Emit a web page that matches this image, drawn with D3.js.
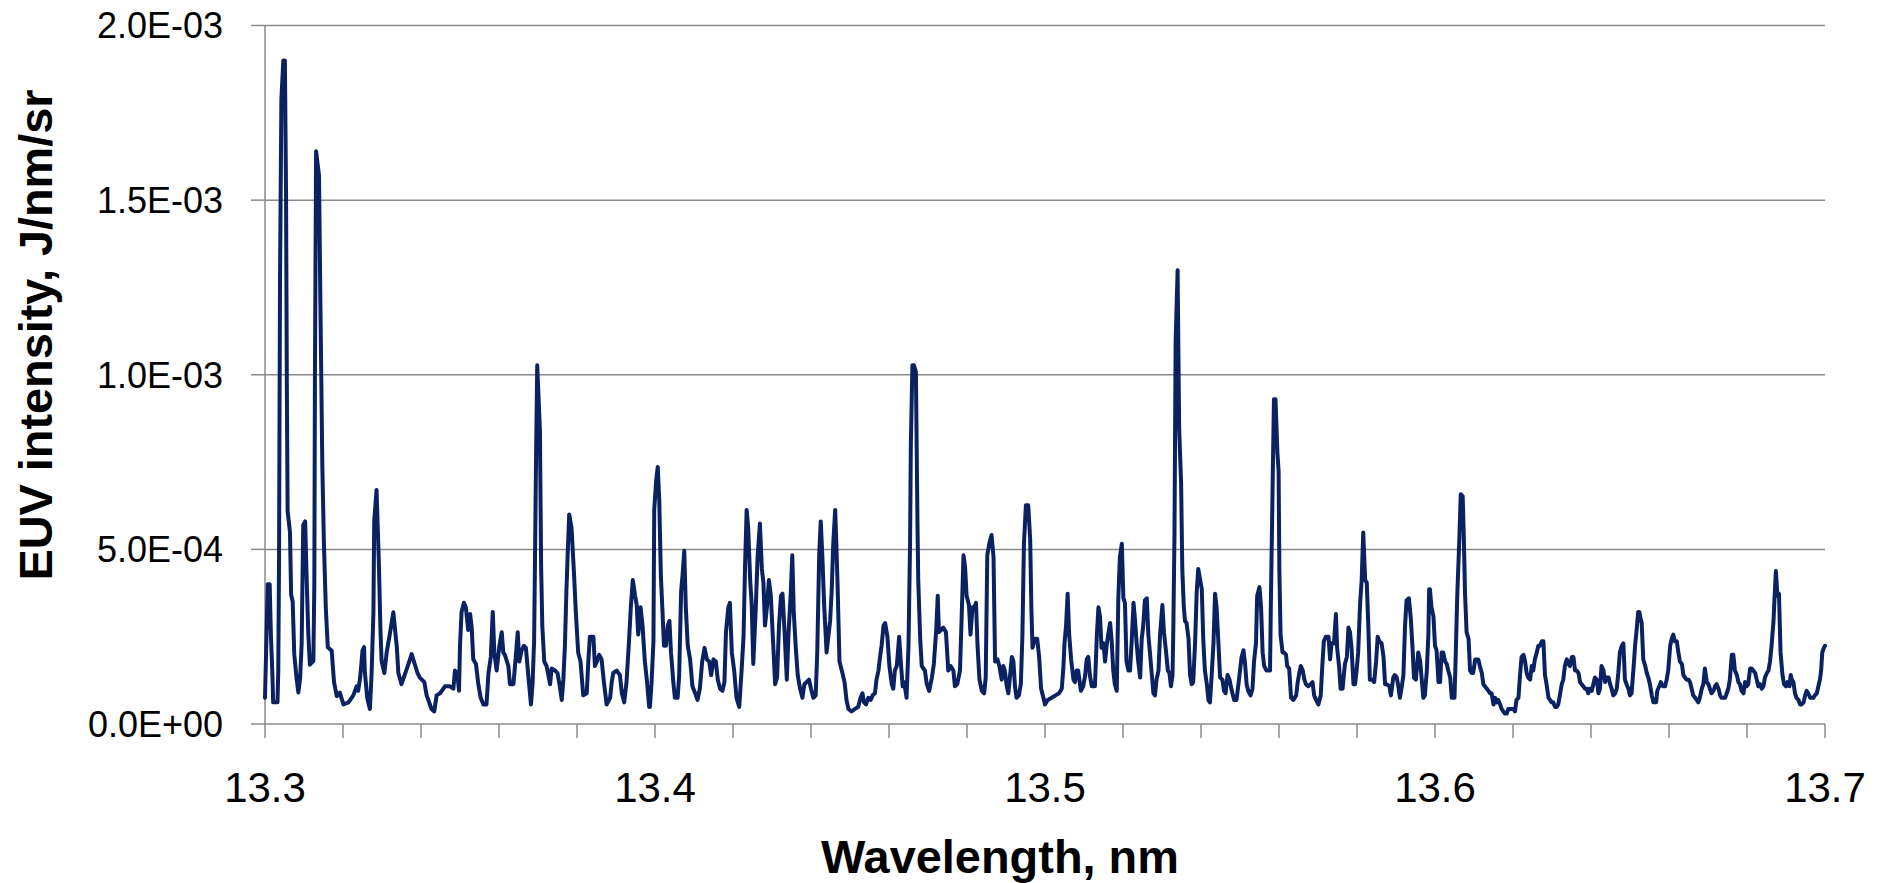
<!doctype html>
<html>
<head>
<meta charset="utf-8">
<title>EUV spectrum</title>
<script src="https://d3js.org/d3.v7.min.js"></script>
<style>
  body { margin: 0; background: #fff; }
  svg text { font-family: "Liberation Sans", Arial, sans-serif; fill: #000; }
</style>
</head>
<body>
<div id="chart"></div>
<script>
  // values
  // spectrum: [wavelength offset from 13.3 nm in pm (0.001 nm), intensity in units of 1E-04 J/nm/sr]
  const wavelengthStart = 13.3;
  const spectrum = [
    [0,0.75],[0.7,4.0],[1.2,4.0],[1.5,2.6],[1.9,1.4],[2.1,0.62],[3.2,0.62],[3.4,1.5],[3.6,4.7],[3.85,12.7],[4.2,17.9],[4.7,19.0],[5.1,19.0],[5.4,15.1],[5.6,9.7],[5.8,6.1],[6.4,5.5],[6.7,3.7],[7.1,3.5],[7.5,2.0],[8.1,1.3],[8.55,0.9],[9.0,1.3],[9.4,2.3],[9.8,5.7],[10.3,5.8],[10.7,4.1],[11.1,2.6],[11.5,1.7],[12.4,1.8],[12.65,4.0],[12.8,9.8],[13.1,16.4],[13.85,15.7],[14.2,12.1],[14.7,7.4],[15.1,5.2],[15.6,3.3],[16.1,2.2],[17.1,2.1],[17.7,1.2],[18.4,0.8],[19.2,0.9],[20.1,0.56],[21.4,0.62],[22.65,0.82],[23.5,1.08],[23.9,0.95],[24.4,1.33],[25.0,2.1],[25.4,2.2],[25.6,1.5],[26.2,0.75],[26.9,0.43],[27.35,1.5],[27.8,3.2],[28.0,5.8],[28.6,6.7],[29.2,4.6],[29.6,2.7],[29.9,1.8],[30.6,1.46],[31.2,2.05],[32.05,2.6],[32.9,3.2],[33.8,2.2],[34.2,1.46],[35.0,1.14],[36.6,1.66],[37.6,2.0],[39.1,1.46],[39.7,1.33],[40.85,1.2],[41.45,0.82],[42.7,0.43],[43.4,0.36],[44.0,0.82],[44.9,0.88],[46.15,1.08],
    [47.4,1.08],[48.3,1.01],[48.7,1.53],[49.3,1.46],[49.75,0.95],[50.0,2.24],[50.4,3.21],[51.0,3.47],[51.5,3.34],[52.1,2.69],[52.6,3.15],[53.0,2.76],[53.4,1.85],[54.1,1.72],[54.7,1.14],[55.3,0.75],[56.0,0.56],[56.8,0.56],[57.3,1.46],[57.9,1.92],[58.4,3.21],[58.8,2.05],[59.4,1.53],[60.1,2.24],[60.7,2.63],[61.1,2.05],[61.5,1.98],[62.4,1.66],[62.8,1.14],[63.7,1.14],[64.1,1.66],[64.8,2.63],[65.2,1.79],[65.8,2.11],[66.4,2.24],[66.9,2.18],[67.5,1.40],[68.2,0.56],[68.6,1.14],[69.0,2.37],[69.2,4.38],[69.5,7.62],[69.8,10.27],[70.5,8.39],[70.8,4.51],[71.1,2.82],[71.6,1.79],[72.2,1.66],[73.1,1.14],[73.5,1.59],[74.4,1.53],[75.0,1.46],[75.5,1.14],[76.1,0.69],[76.5,1.27],[76.9,2.24],[77.3,3.86],[77.6,4.83],[78.0,6.0],[78.6,5.61],[79.2,4.38],[79.7,3.21],[80.3,2.05],[80.9,1.79],[81.6,0.82],[82.5,0.88],[82.9,1.79],[83.3,2.5],[84.2,2.5],[84.6,1.66],[85.1,1.79],[85.7,1.98],[86.3,1.85],[86.9,1.20],[87.6,0.56],[88.5,0.75],[88.9,1.20],[89.3,1.46],[90.2,1.53],[91.0,1.40],[91.5,0.88],[92.1,0.62],[92.7,1.20],[93.3,2.31],[93.8,3.34],[94.3,4.12],[94.9,3.67],[95.3,3.41],[95.7,2.56],[96.3,3.34],[96.8,2.82],[97.4,1.79],[97.9,1.27],[98.5,0.49],[98.7,0.49],
    [99.1,1.14],[99.6,2.37],[99.8,6.13],[100.3,6.97],[100.7,7.36],[101.1,6.39],[101.5,4.25],[101.9,3.28],[102.3,2.24],[102.8,2.24],[103.3,2.82],[103.7,2.95],[104.1,2.05],[104.7,1.20],[105.1,0.75],[105.8,0.75],[106.2,1.40],[106.7,3.80],[107.1,4.31],[107.5,4.96],[107.9,3.34],[108.4,2.24],[109.0,1.85],[109.6,1.08],[110.3,0.88],[110.9,0.69],[111.5,1.01],[112.1,1.79],[112.7,2.18],[113.3,1.85],[113.9,1.79],[114.4,1.40],[115.0,1.85],[115.6,1.79],[116.1,1.27],[116.7,1.01],[117.3,0.95],[117.8,1.20],[118.2,2.63],[118.8,3.34],[119.2,3.47],[119.7,2.05],[120.3,1.53],[120.9,0.75],[121.6,0.49],[122.2,1.53],[122.7,2.5],[123.1,4.57],[123.5,6.13],[123.9,5.61],[124.4,4.12],[124.8,3.41],[125.2,1.72],[125.8,3.21],[126.3,4.77],[126.9,5.74],[127.4,4.44],[127.8,4.05],[128.2,2.82],[128.7,3.34],[129.2,4.12],[129.7,3.67],[130.3,2.31],[130.8,1.14],[131.3,1.33],[131.8,2.82],[132.3,3.67],[132.7,3.73],[133.2,2.69],[133.8,1.27],[134.2,2.5],[134.8,3.73],[135.2,4.83],[135.6,3.15],[136.1,2.18],[136.6,1.40],[137.2,1.01],[137.8,0.75],[138.3,1.14],[138.9,1.20],[139.5,1.27],[140.0,1.01],[140.6,0.75],[141.2,0.82],[141.6,2.05],[142.1,4.83],[142.5,5.80],[142.9,4.83],[143.4,3.34],[144.0,2.05],[144.5,2.56],[144.9,2.95],[145.3,3.80],[145.7,5.16],[146.2,6.13],[146.5,5.16],[146.8,4.05],[147.3,1.79],[147.9,1.53],[148.6,1.20],
    [149.1,0.69],[149.6,0.43],[150.4,0.36],[151.3,0.43],[152.1,0.49],[152.7,0.75],[153.2,0.88],[153.6,0.62],[154.1,0.56],[154.7,0.75],[155.3,0.69],[155.8,0.82],[156.4,0.88],[156.8,1.27],[157.3,1.53],[157.7,1.92],[158.1,2.24],[158.6,2.82],[159.0,2.89],[159.6,2.50],[160.1,1.66],[160.7,1.14],[161.1,1.01],[161.5,1.53],[162.0,1.66],[162.6,2.50],[163.1,1.66],[163.5,1.08],[163.9,1.20],[164.5,0.75],[165.0,2.24],[165.4,5.16],[165.6,8.0],[166.0,10.27],[166.4,10.27],[166.9,10.08],[167.3,5.74],[167.5,4.12],[168.0,2.44],[168.4,1.66],[168.8,1.59],[169.2,1.53],[169.7,1.14],[170.3,0.95],[171.0,1.33],[171.5,1.72],[172.1,2.69],[172.5,3.67],[172.8,2.63],[173.3,2.69],[173.9,2.76],[174.6,2.63],[175.2,1.53],[175.8,1.66],[176.5,1.53],[176.9,1.08],[177.5,1.14],[178.2,1.53],[178.6,2.95],[179.1,4.83],[179.5,4.51],[179.9,3.67],[180.5,3.41],[180.9,2.56],[181.4,3.34],[181.9,3.34],[182.3,3.47],[182.7,2.24],[183.2,1.27],[183.8,0.95],[184.4,0.88],[184.8,1.33],[185.2,4.83],[185.7,5.16],[186.3,5.41],[186.8,4.77],[187.2,1.79],[187.8,1.85],[188.3,1.66],[188.9,1.27],[189.3,1.66],[189.7,1.53],[190.2,1.08],[190.6,0.88],[191.0,1.33],[191.5,1.92],[191.9,1.79],[192.3,1.08],[192.7,0.75],[193.3,0.82],[193.8,1.14],[194.2,2.50],[194.6,5.16],[195.1,6.26],[195.7,6.26],[196.2,5.29],[196.5,3.34],[196.8,2.18],[197.4,2.44],[198.0,2.44],
    [198.5,1.92],[199.0,1.01],[199.6,0.75],[200.0,0.56],[200.7,0.69],[201.7,0.75],[202.7,0.82],[203.6,0.88],[204.3,1.01],[204.7,1.59],[205.0,2.31],[205.4,2.82],[205.8,3.73],[206.2,2.56],[206.7,1.85],[207.3,1.27],[207.7,1.20],[208.1,1.53],[208.5,1.53],[209.2,0.95],[209.8,1.08],[210.3,1.40],[210.7,1.85],[211.1,1.92],[211.5,1.40],[212.0,1.08],[212.8,1.08],[213.3,2.56],[213.7,3.34],[214.1,3.08],[214.5,2.18],[215.0,2.31],[215.4,1.79],[215.8,2.24],[216.2,2.56],[216.7,2.89],[217.1,2.37],[217.5,1.53],[217.9,1.14],[218.4,0.95],[218.8,3.60],[219.2,4.77],[219.7,5.16],[220.1,3.60],[220.5,3.47],[220.9,1.79],[221.4,1.53],[221.8,1.53],[222.2,2.31],[222.7,3.47],[223.1,2.95],[223.5,2.31],[223.9,1.79],[224.4,1.33],[224.8,2.44],[225.2,2.82],[225.6,3.54],[226.1,3.60],[226.5,2.56],[226.9,2.05],[227.4,1.40],[227.8,0.88],[228.2,0.82],[228.6,1.27],[229.1,1.53],[229.5,2.56],[230.1,3.41],[230.5,2.63],[231.0,2.11],[231.5,1.53],[231.9,1.46],[232.3,1.08],[232.7,1.40],[232.9,2.69],[233.2,5.41],[233.5,10.98],[234.0,12.99],[234.4,8.46],[234.9,6.90],[235.2,4.44],[235.6,3.34],[235.9,2.95],[236.3,2.89],[236.8,2.44],[237.2,1.40],[237.6,1.14],[238.0,1.20],[238.5,2.37],[238.9,3.80],[239.3,4.44],[239.7,4.18],[240.2,3.86],[240.6,2.37],[241.0,1.53],[241.5,1.14],[241.9,0.69],[242.3,0.62],[242.7,1.33],[243.2,2.31],[243.6,3.73],[244.0,3.34],[244.5,2.24],[244.9,1.33],[245.5,1.27],[245.9,0.95],[246.3,0.88],[246.8,1.40],[247.3,1.27],[247.9,0.95],[248.5,0.69],
    [249.1,0.69],[249.6,1.14],[250.0,1.53],[250.4,1.92],[250.9,2.11],[251.3,1.72],[251.7,1.14],[252.1,0.95],[252.7,0.82],[253.2,1.01],[253.6,1.79],[254.1,2.31],[254.4,3.67],[255.0,3.92],[255.4,3.34],[255.8,2.05],[256.2,1.66],[256.8,1.53],[257.3,1.53],[257.7,1.53],[257.9,3.34],[258.3,6.32],[258.7,9.30],[259.1,9.30],[259.6,7.75],[259.9,7.23],[260.1,4.38],[260.4,2.56],[260.9,2.05],[261.3,2.05],[261.8,1.98],[262.1,1.66],[262.6,1.59],[263.1,0.75],[263.7,0.69],[264.4,0.82],[264.8,1.20],[265.2,1.46],[265.6,1.66],[266.1,1.53],[266.5,1.27],[266.9,1.14],[267.5,1.08],[268.1,1.14],[268.6,1.20],[269.0,0.82],[269.5,0.69],[270.1,0.56],[270.7,0.82],[271.1,1.66],[271.5,2.37],[272.0,2.50],[272.7,2.50],[273.1,1.85],[273.5,2.31],[274.1,2.31],[274.6,3.15],[274.9,2.18],[275.4,1.66],[275.8,1.01],[276.3,1.01],[276.9,1.72],[277.4,1.92],[277.8,2.76],[278.2,2.63],[278.6,2.18],[279.1,1.14],[279.5,1.14],[279.9,1.53],[280.3,2.05],[280.8,3.47],[281.2,4.12],[281.6,5.48],[282.1,4.12],[282.5,4.05],[282.9,2.82],[283.3,1.27],[284.0,1.27],[284.4,1.20],[284.9,1.79],[285.3,2.50],[285.7,2.37],[286.3,2.31],[286.8,1.92],[287.2,1.14],[287.6,1.14],[288.3,1.08],[288.7,0.82],[289.3,1.33],[289.7,1.40],[290.2,1.33],[290.6,1.08],[291.0,0.75],[291.5,1.08],[291.9,1.40],[292.3,2.76],[292.7,3.54],[293.3,3.60],[293.8,3.02],[294.3,2.05],[294.6,1.33],[295.1,1.27],[295.7,2.05],[296.2,1.79],[296.6,1.27],[297.0,0.75],[297.4,0.82],[297.9,1.53],[298.3,2.56],[298.5,3.86],
    [298.7,3.86],[299.1,3.34],[299.6,3.08],[300.0,2.24],[300.4,2.11],[300.9,1.20],[301.3,1.20],[301.7,2.05],[302.1,2.05],[302.6,1.79],[303.0,1.72],[303.4,1.53],[303.9,1.33],[304.3,0.75],[305.0,0.75],[305.3,1.92],[305.7,3.67],[306.2,5.16],[306.6,6.58],[307.1,6.52],[307.4,5.29],[307.7,3.73],[308.1,2.63],[308.6,2.44],[309.0,1.53],[309.4,1.46],[309.8,1.46],[310.3,1.85],[310.7,1.85],[311.1,1.85],[311.5,1.66],[312.0,1.46],[312.4,1.14],[312.8,1.08],[313.3,1.01],[313.7,0.95],[314.1,0.88],[314.5,0.88],[315.0,0.56],[315.4,0.75],[315.8,0.62],[316.2,0.69],[316.7,0.56],[317.1,0.43],[317.5,0.36],[317.9,0.30],[318.4,0.30],[318.8,0.43],[319.2,0.43],[320.1,0.43],[320.5,0.36],[320.9,0.69],[321.4,0.75],[321.8,1.40],[322.2,1.92],[322.7,1.98],[323.1,1.79],[323.5,1.46],[323.9,1.33],[324.4,1.27],[324.8,1.66],[325.2,1.53],[325.6,1.85],[326.1,2.05],[326.5,2.24],[326.9,2.24],[327.4,2.37],[327.8,2.37],[328.2,1.40],[328.6,1.14],[329.1,0.75],[329.5,0.69],[329.9,0.62],[330.3,0.62],[330.8,0.49],[331.2,0.49],[331.6,0.56],[332.1,0.88],[332.5,1.14],[332.9,1.27],[333.3,1.66],[333.8,1.85],[334.2,1.72],[334.6,1.66],[335.1,1.92],[335.5,1.92],[335.9,1.53],[336.3,1.53],[336.8,1.46],[337.2,1.20],[337.6,1.14],[338.5,1.01],[338.9,1.01],[339.3,0.88],[339.7,1.01],[340.2,0.95],[340.6,1.14],[341.0,1.33],[341.5,1.27],[341.9,0.88],[342.3,1.01],[342.7,1.66],[343.2,1.53],[343.6,1.20],[344.0,1.33],[344.5,1.33],[344.9,1.14],[345.3,1.01],[345.7,0.82],[346.2,0.88],[346.6,1.01],[347.0,1.46],[347.4,2.05],[347.9,2.24],[348.3,2.31],
    [348.7,1.27],[349.1,1.14],[349.6,1.01],[350.0,0.82],[350.4,0.88],[350.9,1.59],[351.3,2.24],[351.7,2.69],[352.1,3.21],[352.4,3.21],[352.7,3.02],[353.0,2.89],[353.4,1.85],[353.9,1.66],[354.3,1.46],[354.7,1.33],[355.1,1.14],[355.6,0.82],[356.0,0.62],[356.7,0.62],[357.0,0.95],[357.5,1.08],[357.9,1.20],[358.4,1.08],[359.0,1.08],[359.4,1.27],[359.8,1.53],[360.3,2.24],[360.7,2.44],[361.1,2.56],[361.5,2.37],[362.0,2.37],[362.4,2.05],[362.8,1.79],[363.3,1.72],[363.7,1.40],[364.1,1.33],[364.5,1.27],[365.0,1.27],[365.4,1.20],[365.8,1.01],[366.2,0.82],[366.7,0.75],[367.1,0.69],[367.5,0.62],[367.9,0.75],[368.4,1.01],[368.8,1.14],[369.2,1.59],[369.7,1.20],[370.1,1.14],[370.5,1.01],[370.9,0.88],[371.4,0.95],[371.8,1.08],[372.2,1.14],[372.7,1.01],[373.1,0.82],[373.5,0.75],[373.9,0.75],[374.4,0.75],[374.8,0.88],[375.2,1.01],[375.6,1.27],[376.1,1.98],[376.5,1.98],[376.9,1.53],[377.4,1.40],[377.8,1.20],[378.2,1.14],[378.6,0.95],[379.1,0.88],[379.5,1.20],[379.9,1.08],[380.3,1.14],[380.8,1.59],[381.2,1.59],[381.6,1.53],[382.1,1.46],[382.5,1.27],[382.9,1.08],[383.3,1.14],[383.8,1.01],[384.2,1.08],[384.6,1.33],[385.1,1.46],[385.5,1.53],[385.9,1.79],[386.3,2.24],[386.8,2.95],[387.0,3.47],[387.4,4.38],[387.8,3.67],[388.2,3.73],[388.6,2.05],[389.1,1.40],[389.5,1.14],[390.0,1.08],[390.4,1.20],[390.9,1.08],[391.2,1.40],[391.5,1.27],[391.9,1.20],[392.3,0.88],[392.7,0.75],[393.2,0.69],[393.6,0.56],[394.0,0.56],[394.5,0.62],[394.9,0.82],[395.3,0.95],[395.7,0.88],[396.2,0.75],[396.6,0.75],[397.0,0.75],[397.4,0.82],[397.9,0.88],[398.3,1.08],[398.7,1.27],[399.0,1.53],[399.3,2.05],[399.7,2.18],[400.0,2.24]
  ];

  const yTickValues = [0, 5e-4, 1e-3, 1.5e-3, 2e-3];
  const yTickLabels = ["0.0E+00", "5.0E-04", "1.0E-03", "1.5E-03", "2.0E-03"];
  const xLabelValues = [13.3, 13.4, 13.5, 13.6, 13.7];
  const xLabelText = ["13.3", "13.4", "13.5", "13.6", "13.7"];
  const xTickStep = 0.02;

  const width = 1880, height = 883;
  const plotLeft = 265, plotRight = 1825, plotTop = 25.5, plotBottom = 724;

  const svg = d3.select("#chart").append("svg")
      .attr("width", width)
      .attr("height", height);

  const x = d3.scaleLinear().domain([13.3, 13.7]).range([plotLeft, plotRight]);
  const y = d3.scaleLinear().domain([0, 2e-3]).range([plotBottom, plotTop]);

  const gridColor = "#8a8a8a";

  // horizontal gridlines
  svg.append("g").selectAll("line")
    .data(yTickValues.slice(1))
    .enter().append("line")
      .attr("x1", plotLeft).attr("x2", plotRight)
      .attr("y1", d => y(d)).attr("y2", d => y(d))
      .attr("stroke", gridColor).attr("stroke-width", 1.5);

  // y axis line and ticks
  svg.append("line")
    .attr("x1", plotLeft).attr("x2", plotLeft).attr("y1", plotTop).attr("y2", plotBottom)
    .attr("stroke", gridColor).attr("stroke-width", 1.5);
  svg.append("g").selectAll("line")
    .data(yTickValues)
    .enter().append("line")
      .attr("x1", plotLeft - 14).attr("x2", plotLeft)
      .attr("y1", d => y(d)).attr("y2", d => y(d))
      .attr("stroke", gridColor).attr("stroke-width", 1.5);

  // x axis line and ticks
  const xTicks = d3.range(0, 21).map(i => 13.3 + i * xTickStep);
  svg.append("line")
    .attr("x1", plotLeft).attr("x2", plotRight).attr("y1", plotBottom).attr("y2", plotBottom)
    .attr("stroke", gridColor).attr("stroke-width", 1.5);
  svg.append("g").selectAll("line")
    .data(xTicks)
    .enter().append("line")
      .attr("x1", d => x(d)).attr("x2", d => x(d))
      .attr("y1", plotBottom).attr("y2", plotBottom + 14)
      .attr("stroke", gridColor).attr("stroke-width", 1.5);

  // spectrum line
  const line = d3.line()
    .x(d => x(wavelengthStart + d[0] / 1000))
    .y(d => y(d[1] * 1e-4));

  svg.append("path")
    .datum(spectrum)
    .attr("d", line)
    .attr("fill", "none")
    .attr("stroke", "#0a2262")
    .attr("stroke-width", 4)
    .attr("stroke-linejoin", "round")
    .attr("stroke-linecap", "round");

  // tick labels
  svg.append("g").selectAll("text")
    .data(yTickValues)
    .enter().append("text")
      .attr("x", 223)
      .attr("y", d => y(d))
      .attr("dy", "0.36em")
      .attr("text-anchor", "end")
      .attr("font-size", 36)
      .text((d, i) => yTickLabels[i]);

  svg.append("g").selectAll("text")
    .data(xLabelValues)
    .enter().append("text")
      .attr("x", d => x(d))
      .attr("y", 802)
      .attr("text-anchor", "middle")
      .attr("font-size", 42)
      .text((d, i) => xLabelText[i]);

  // axis titles
  svg.append("text")
    .attr("x", 1000).attr("y", 873)
    .attr("text-anchor", "middle")
    .attr("font-size", 46).attr("font-weight", "bold")
    .attr("textLength", 358).attr("lengthAdjust", "spacingAndGlyphs")
    .text("Wavelength, nm");

  svg.append("text")
    .attr("transform", "translate(52,335) rotate(-90)")
    .attr("text-anchor", "middle")
    .attr("font-size", 46).attr("font-weight", "bold")
    .attr("textLength", 491).attr("lengthAdjust", "spacingAndGlyphs")
    .text("EUV intensity, J/nm/sr");
</script>
</body>
</html>
